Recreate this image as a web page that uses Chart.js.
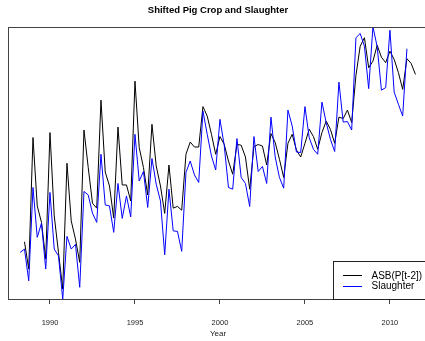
<!DOCTYPE html>
<html>
<head>
<meta charset="utf-8">
<title>Shifted Pig Crop and Slaughter</title>
<script src="https://cdn.jsdelivr.net/npm/chart.js@4/dist/chart.umd.min.js"></script>
<style>
  html, body { margin: 0; padding: 0; background: #fff; overflow: hidden; }
  #wrap { width: 428px; height: 341px; }
</style>
</head>
<body>
<div id="wrap"><canvas id="pigChart" width="428" height="341"></canvas></div>
<script>
'use strict';

// quarterly series, arbitrary units (million head)
var cropStart = 1988.5;       // first quarter of ASB(P[t-2])
var slaughterStart = 1988.25; // first quarter of Slaughter
var seriesNames = ["ASB(P[t-2])", "Slaughter"];
var yearTicks = [1990, 1995, 2000, 2005, 2010];

var cropShifted = [
  20.29, 19.20, 24.47, 21.73, 21.07, 19.60, 24.67, 21.33, 19.87, 18.40,
  23.44, 21.13, 20.40, 19.47, 24.77, 23.27, 21.84, 21.64, 25.97, 23.09,
  22.53, 21.24, 24.89, 22.57, 22.57, 21.93, 26.73, 24.07, 23.27, 22.17,
  25.00, 23.33, 22.53, 21.43, 23.37, 21.64, 21.71, 21.56, 23.80, 24.29,
  24.09, 24.09, 25.71, 25.33, 24.60, 23.80, 24.51, 24.20, 23.53, 23.00,
  24.20, 24.16, 23.69, 22.40, 24.11, 24.19, 24.13, 23.37, 24.63, 24.27,
  23.60, 22.87, 24.24, 24.60, 23.97, 23.69, 24.24, 24.80, 24.51, 24.00,
  24.67, 25.13, 24.80, 24.24, 25.29, 25.23, 25.57, 25.07, 26.96, 28.13,
  28.47, 27.27, 27.53, 28.17, 27.69, 27.47, 27.93, 27.60, 27.07, 26.40,
  27.63, 27.44, 27.00
];

var slaughter = [
  19.87, 20.00, 18.73, 22.47, 20.47, 21.04, 19.20, 22.27, 20.00, 19.73,
  18.00, 20.51, 20.00, 20.19, 18.47, 22.31, 22.17, 21.44, 21.07, 23.80,
  21.77, 21.73, 20.67, 22.63, 21.23, 22.13, 21.29, 24.60, 22.73, 23.11,
  21.67, 23.63, 22.60, 21.93, 19.77, 22.40, 20.73, 20.71, 19.91, 23.07,
  23.53, 22.97, 22.67, 25.53, 24.60, 23.73, 23.17, 25.20, 24.16, 22.47,
  22.40, 24.43, 22.87, 22.63, 21.71, 24.51, 23.11, 23.31, 22.63, 25.29,
  23.69, 22.87, 22.44, 25.57, 24.93, 23.89, 23.87, 25.71, 24.47, 24.00,
  23.80, 25.89, 25.07, 24.40, 23.91, 26.69, 25.09, 25.11, 24.77, 28.47,
  28.64, 28.13, 26.43, 28.91, 28.11, 26.37, 26.47, 28.77, 26.29, 25.80,
  25.33, 28.03
];

var toPoints = function(start, values) {
  return values.map(function(v, i) {
    return { x: start + 0.25 * i, y: v };
  });
};

var fontFamily = '"Liberation Sans", Arial, Helvetica, sans-serif';

// box around the plot region, like R's box()
var plotBox = {
  id: 'plotBox',
  afterDraw: function(chart) {
    var a = chart.chartArea;
    var ctx = chart.ctx;
    ctx.save();
    ctx.strokeStyle = '#444';
    ctx.lineWidth = 1;
    ctx.strokeRect(Math.round(a.left) + 0.5, Math.round(a.top) + 0.5,
      Math.round(a.right - a.left), Math.round(a.bottom - a.top));
    ctx.restore();
  }
};

// bottom-right legend inside the plot
var boxLegend = {
  id: 'boxLegend',
  afterDraw: function(chart) {
    var a = chart.chartArea;
    var ctx = chart.ctx;
    var sets = chart.data.datasets;
    var rowH = 10.7;
    var boxH = 38;
    var boxW = 95;
    var x0 = a.right - boxW;
    var y0 = a.bottom - boxH;
    ctx.save();
    ctx.fillStyle = '#fff';
    ctx.fillRect(x0, y0, boxW, boxH);
    ctx.strokeStyle = '#222';
    ctx.lineWidth = 1;
    ctx.strokeRect(Math.round(x0) + 0.5, Math.round(y0) + 0.5, boxW, boxH);
    ctx.font = '10px ' + fontFamily;
    ctx.textBaseline = 'middle';
    ctx.textAlign = 'left';
    sets.forEach(function(ds, i) {
      var yy = y0 + 14.3 + i * rowH;
      ctx.strokeStyle = ds.borderColor;
      ctx.beginPath();
      ctx.moveTo(x0 + 10, Math.round(yy) + 0.5);
      ctx.lineTo(x0 + 29, Math.round(yy) + 0.5);
      ctx.stroke();
      ctx.fillStyle = '#000';
      ctx.fillText(ds.label, x0 + 38.5, yy + 0.5);
    });
    ctx.restore();
  }
};

var ctx = document.getElementById('pigChart').getContext('2d');

var pigChart = new Chart(ctx, {
  type: 'line',
  data: {
    datasets: [
      {
        label: seriesNames[0],
        data: toPoints(cropStart, cropShifted),
        borderColor: '#000000',
        backgroundColor: '#000000',
        borderWidth: 1,
        pointRadius: 0,
        tension: 0,
        fill: false,
        order: 1
      },
      {
        label: seriesNames[1],
        data: toPoints(slaughterStart, slaughter),
        borderColor: '#0000ff',
        backgroundColor: '#0000ff',
        borderWidth: 1,
        pointRadius: 0,
        tension: 0,
        fill: false,
        order: 0
      }
    ]
  },
  options: {
    responsive: false,
    animation: false,
    devicePixelRatio: 1,
    layout: { padding: { left: 8, right: 0, top: 0, bottom: 0 } },
    plugins: {
      legend: { display: false },
      tooltip: { enabled: false },
      title: {
        display: true,
        text: 'Shifted Pig Crop and Slaughter',
        color: '#000',
        font: { family: fontFamily, size: 9.5, weight: 'bold', lineHeight: 1.2 },
        padding: { top: 5, bottom: 10.6 }
      }
    },
    scales: {
      x: {
        type: 'linear',
        min: 1987.53,
        max: 2012.24,
        afterBuildTicks: function(scale) {
          scale.ticks = yearTicks.map(function(v) { return { value: v }; });
        },
        afterFit: function(scale) {
          scale.height = 42;
        },
        grid: {
          display: true,
          drawOnChartArea: false,
          drawTicks: true,
          tickLength: 5,
          color: '#444'
        },
        border: { display: false },
        ticks: {
          color: '#222',
          padding: 14,
          maxRotation: 0,
          font: { family: fontFamily, size: 7.5 },
          callback: function(v) { return String(v); }
        },
        title: {
          display: true,
          text: 'Year',
          color: '#222',
          font: { family: fontFamily, size: 8 },
          padding: { top: 0, bottom: 2 }
        }
      },
      y: {
        display: false,
        min: 18.0,
        max: 28.9
      }
    }
  },
  plugins: [plotBox, boxLegend]
});
</script>
</body>
</html>
